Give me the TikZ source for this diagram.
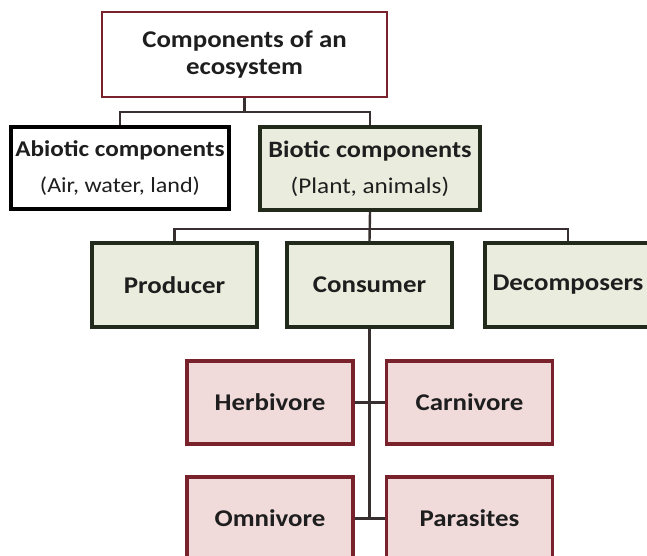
\documentclass[tikz,border=0pt]{standalone}
\usepackage{fontspec}
\setmainfont{Carlito}[FakeStretch=1.12]
\definecolor{redb}{HTML}{7A222C}
\definecolor{greenb}{HTML}{222A1C}
\definecolor{beige}{HTML}{EAEDDD}
\definecolor{pinkf}{HTML}{F0DADA}
\definecolor{linec}{HTML}{383030}
\definecolor{txt}{HTML}{1E1E1E}
\tikzset{
  box/.style={rectangle, line width=3.4pt, text=txt, align=center, inner sep=0pt},
  topbox/.style={box, draw=redb, line width=2.6pt, fill=white, minimum width=285pt, minimum height=85pt},
  abiobox/.style={box, draw=black, fill=white, minimum width=218pt, minimum height=82pt},
  greenbox/.style={box, draw=greenb, fill=beige, minimum height=84pt},
  pinkbox/.style={box, draw=redb, fill=pinkf, minimum width=166pt, minimum height=83pt},
  conn/.style={draw=linec, line width=2.4pt},
  ttl/.style={font=\fontsize{24}{27}\selectfont\bfseries}
}
\begin{document}
\begin{tikzpicture}[x=1pt,y=-1pt]
\useasboundingbox (0,0) rectangle (647,556);
\node[topbox, ttl] (top) at (244.5,54.5) {Components of an\\ecosystem};
\node[abiobox] (abio) at (120,168) {{\fontsize{22.5}{26}\selectfont\bfseries Abiotic components}\\[15pt]{\fontsize{21.5}{26}\selectfont (Air, water, land)}};
\node[greenbox, minimum width=220pt, minimum height=83pt] (bio) at (370,168.5) {{\fontsize{23.5}{26}\selectfont\bfseries Biotic components}\\[15pt]{\fontsize{22.5}{26}\selectfont (Plant, animals)}};
\node[greenbox, minimum width=165pt, ttl] (prod) at (174.5,285) {Producer};
\node[greenbox, minimum width=165pt, ttl] (cons) at (369.5,285) {Consumer};
\node[greenbox, minimum width=166pt, ttl] (decomp) at (568,285) {Decomposers};
\node[pinkbox, ttl] (herb) at (270,402.5) {Herbivore};
\node[pinkbox, ttl] (carn) at (469.5,402.5) {Carnivore};
\node[pinkbox, ttl] (omni) at (270,518.5) {Omnivore};
\node[pinkbox, ttl] (para) at (469.5,518.5) {Parasites};
\draw[conn] (top.south) -- ++(0,14) -| (abio.north);
\draw[conn] (top.south) -- ++(0,14) -| (bio.north);
\draw[conn] (bio.south) -- ++(0,17.5) -| (prod.north);
\draw[conn] (bio.south) -- ++(0,17.5) -| (decomp.north);
\draw[conn] (bio.south) -- (cons.north);
\coordinate (cend) at (cons.south |- omni.east);
\draw[conn] (cons.south) -- (cend);
\draw[conn] (herb.east) -- (carn.west);
\draw[conn] (omni.east) -- (para.west);
\end{tikzpicture}
\end{document}
